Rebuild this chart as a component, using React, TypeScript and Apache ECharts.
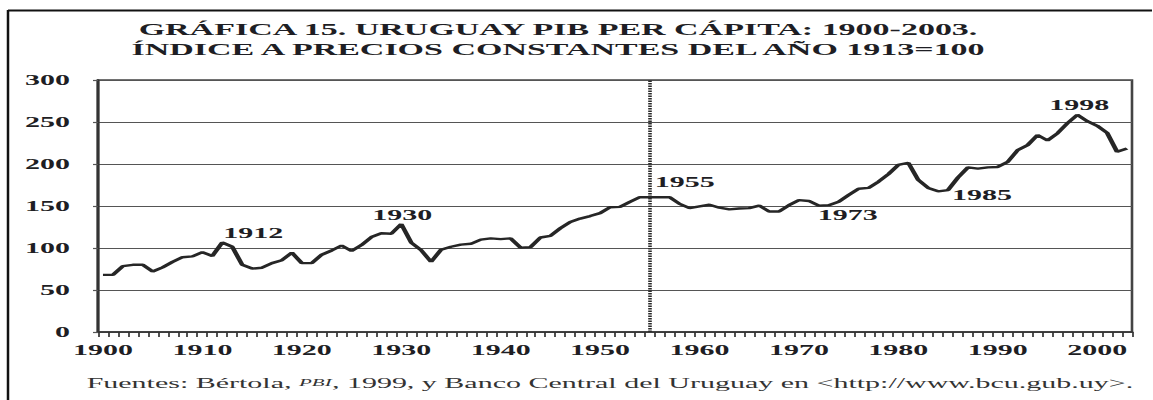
import React, { useEffect, useRef } from 'react';
import * as echarts from 'echarts';

const years: string[] = [
  '1900', '1901', '1902', '1903', '1904', '1905', '1906', '1907', '1908', '1909',
  '1910', '1911', '1912', '1913', '1914', '1915', '1916', '1917', '1918', '1919',
  '1920', '1921', '1922', '1923', '1924', '1925', '1926', '1927', '1928', '1929',
  '1930', '1931', '1932', '1933', '1934', '1935', '1936', '1937', '1938', '1939',
  '1940', '1941', '1942', '1943', '1944', '1945', '1946', '1947', '1948', '1949',
  '1950', '1951', '1952', '1953', '1954', '1955', '1956', '1957', '1958', '1959',
  '1960', '1961', '1962', '1963', '1964', '1965', '1966', '1967', '1968', '1969',
  '1970', '1971', '1972', '1973', '1974', '1975', '1976', '1977', '1978', '1979',
  '1980', '1981', '1982', '1983', '1984', '1985', '1986', '1987', '1988', '1989',
  '1990', '1991', '1992', '1993', '1994', '1995', '1996', '1997', '1998', '1999',
  '2000', '2001', '2002', '2003',
];

const gdpIndex: number[] = [
  68, 68, 78.5, 80, 80, 72, 77, 83.5, 89, 90,
  95, 90.5, 106.5, 101.5, 80, 75.5, 76.5, 82, 85.5, 94.5,
  82, 82, 92, 97, 103, 96.5, 103.5, 113, 117.5, 117,
  128.5, 106.5, 97.5, 83.5, 98, 101.5, 104, 105, 110, 111.5,
  110.5, 111.5, 100.5, 101, 112.5, 114.5, 123.5, 131, 135, 138,
  141.5, 148.5, 149, 155, 160.5, 160.5, 160.5, 160.5, 152.5, 147.5,
  149.5, 151.5, 148, 146, 147, 147.5, 150.5, 143.5, 143.5, 151,
  157, 156, 150.5, 151, 155, 163, 170.5, 171.5, 179, 188,
  199, 201.5, 181, 171.5, 167.5, 169, 184, 196, 194.5, 196,
  196.5, 202.5, 216.5, 222.5, 234.5, 228, 236.5, 248.5, 258.5, 251,
  245.5, 237, 214.5, 218.5,
];

const xTickLabels: string[] = ['1900', '1910', '1920', '1930', '1940', '1950', '1960', '1970', '1980', '1990', '2000'];
const yTickValues: number[] = [0, 50, 100, 150, 200, 250, 300];
const annotationYears: string[] = ['1912', '1930', '1955', '1973', '1985', '1998'];
const dividerYear = '1955';

const titleText = 'GRÁFICA 15. URUGUAY PIB PER CÁPITA: 1900-2003.\nÍNDICE A PRECIOS CONSTANTES DEL AÑO 1913=100';
const footerText = 'Fuentes: Bértola, {sc|PBI}, 1999, y Banco Central del Uruguay en <http://www.bcu.gub.uy>.';

const FONT = '"Liberation Serif", "DejaVu Serif", serif';
const INK = '#1e1e24';

export default function App() {
  const ref = useRef<HTMLDivElement>(null);

  useEffect(() => {
    const chart = echarts.init(ref.current!, null, { renderer: 'svg' });

    const labelOffsets: Record<string, [number, number]> = {
      '1912': [15.5, -9.5],
      '1930': [0.5, -9.5],
      '1955': [17.5, -15.5],
      '1973': [9.5, 10],
      '1985': [17, 5],
      '1998': [1, -9.5],
    };

    const markData = annotationYears.map((y) => {
      const i = years.indexOf(y);
      return {
        name: y,
        coord: [i, gdpIndex[i]],
        label: { offset: labelOffsets[y] },
      };
    });

    chart.setOption({
      animation: false,
      backgroundColor: '#fff',
      title: [
        {
          text: titleText,
          left: 279,
          top: 19,
          padding: 0,
          textAlign: 'center',
          textStyle: { fontFamily: FONT, fontSize: 17, fontWeight: 'bold', color: INK, lineHeight: 20 },
        },
        {
          text: footerText,
          left: 305,
          top: 375,
          padding: 0,
          textAlign: 'center',
          textStyle: {
            fontFamily: FONT, fontSize: 15, fontWeight: 'normal', color: '#333', lineHeight: 15,
            rich: { sc: { fontFamily: FONT, fontSize: 10.5, fontStyle: 'italic', color: '#333' } },
          },
        },
      ],
      graphic: [
        { type: 'line', shape: { x1: 4, y1: 10.5, x2: 576, y2: 10.5 }, style: { stroke: '#111', lineWidth: 2 } },
        { type: 'line', shape: { x1: 4, y1: 10, x2: 4, y2: 400 }, style: { stroke: '#111', lineWidth: 1.25 } },
      ],
      grid: {
        left: 49, right: 10, top: 80, bottom: 68,
        show: true, borderColor: '#444', borderWidth: 1.3, backgroundColor: 'transparent',
      },
      xAxis: {
        type: 'category',
        data: years,
        boundaryGap: true,
        axisLine: { lineStyle: { color: '#333', width: 1.5 } },
        axisTick: { show: true, interval: 0, length: 5, lineStyle: { color: '#333', width: 0.85 } },
        axisLabel: {
          interval: (_i: number, v: string) => xTickLabels.indexOf(v) >= 0,
          margin: 10,
          fontFamily: FONT, fontSize: 15, fontWeight: 'bold', color: INK,
        },
        splitLine: { show: false },
      },
      yAxis: {
        type: 'value',
        min: yTickValues[0],
        max: yTickValues[yTickValues.length - 1],
        interval: 50,
        axisLine: { show: true, lineStyle: { color: '#333', width: 1.5 } },
        axisTick: { show: true, length: 2.5, lineStyle: { color: '#555', width: 1.2 } },
        axisLabel: { margin: 14, fontFamily: FONT, fontSize: 15, fontWeight: 'bold', color: INK },
        splitLine: { show: true, lineStyle: { color: '#555', width: 1.2 } },
      },
      series: [
        {
          type: 'line',
          data: gdpIndex,
          symbol: 'none',
          lineStyle: { color: '#262626', width: 2.4 },
          z: 5,
          markLine: {
            silent: true,
            symbol: ['none', 'none'],
            label: { show: false },
            lineStyle: { color: '#2a2a2a', width: 1.8, type: [1.5, 1] },
            data: [{ xAxis: years.indexOf(dividerYear) }],
          },
          markPoint: {
            silent: true,
            symbol: 'circle',
            symbolSize: 0,
            itemStyle: { color: 'transparent' },
            label: {
              show: true,
              position: 'inside',
              formatter: '{b}',
              fontFamily: FONT,
              fontSize: 15,
              fontWeight: 'bold',
              color: INK,
            },
            data: markData,
          },
        },
      ],
    });

    return () => chart.dispose();
  }, []);

  return (
    <div
      ref={ref}
      style={{
        position: 'absolute',
        left: 0,
        top: 0,
        width: 576,
        height: 400,
        transform: 'scaleX(2)',
        transformOrigin: '0 0',
      }}
    />
  );
}
